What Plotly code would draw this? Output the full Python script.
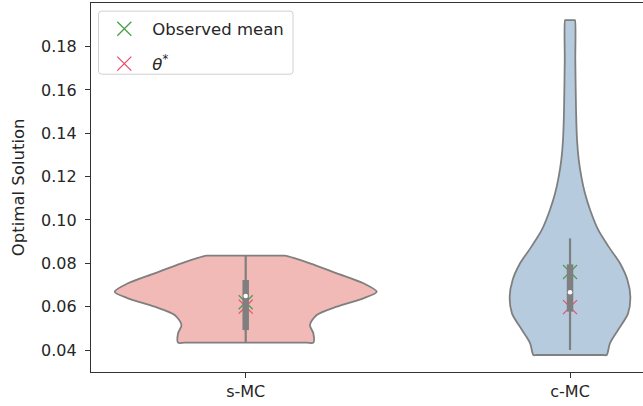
import plotly.graph_objects as go

# Categories and their positions on the x axis
categories = ["s-MC", "c-MC"]
positions = [0, 1]

# Violin outlines: value levels (bottom -> top) and the density half-width at each level
smc_levels = [0.04337, 0.04771, 0.05154, 0.05615, 0.05998, 0.06385, 0.06690,
              0.07078, 0.07539, 0.08000, 0.08351]
smc_halfwidth = [0.2085, 0.2085, 0.198, 0.219, 0.281, 0.363, 0.404,
                 0.363, 0.281, 0.198, 0.121]

cmc_levels = [0.0377, 0.0431, 0.0492, 0.0569, 0.0646, 0.0723, 0.0800, 0.0877,
              0.0954, 0.1046, 0.1123, 0.1199, 0.1276, 0.1369, 0.1507, 0.1738, 0.1922]
cmc_halfwidth = [0.113, 0.123, 0.148, 0.179, 0.186, 0.177, 0.154, 0.119,
                 0.087, 0.062, 0.046, 0.035, 0.027, 0.0216, 0.0185, 0.0163, 0.0154]

# Inner box statistics per category
whisker_low = [0.0434, 0.0400]
whisker_high = [0.0835, 0.0915]
q1 = [0.0492, 0.0577]
q3 = [0.0723, 0.0795]
median = [0.0649, 0.0666]

# Marker series
observed_mean = [0.0620, 0.0760]
theta_star = [0.0600, 0.0598]

fill_colors = ["#f1bab6", "#b7cbdf"]
edge_color = "#7f7f7f"
text_color = "#262626"
font_family = "DejaVu Sans"


def violin_outline(pos, levels, hw):
    """Closed outline: flat top cap, right side down, flat bottom cap, left side up."""
    top, bottom = levels[-1], levels[0]
    inset = 0.9
    xs = [pos - hw[-1], pos - inset * hw[-1], pos + inset * hw[-1]]
    ys = [top, top, top]
    for lv, w in zip(reversed(levels), reversed(hw)):
        xs.append(pos + w)
        ys.append(lv)
    xs += [pos + inset * hw[0], pos - inset * hw[0]]
    ys += [bottom, bottom]
    for lv, w in zip(levels, hw):
        xs.append(pos - w)
        ys.append(lv)
    return xs, ys


fig = go.Figure()

outlines = [(smc_levels, smc_halfwidth), (cmc_levels, cmc_halfwidth)]
for pos, (levels, hw), color, name in zip(positions, outlines, fill_colors, categories):
    xs, ys = violin_outline(pos, levels, hw)
    fig.add_trace(go.Scatter(
        x=xs, y=ys, mode="lines", fill="toself", fillcolor=color,
        line=dict(color=edge_color, width=1.8, shape="spline", smoothing=0.8),
        name=name, showlegend=False, hoverinfo="skip",
    ))

fig.add_trace(go.Scatter(
    x=positions, y=observed_mean, mode="markers", name="Observed mean",
    legendgroup="mean", legendrank=1,
    marker=dict(symbol="x-thin", size=14, line=dict(color="#4aa04a", width=1.3)),
))
fig.add_trace(go.Scatter(
    x=positions, y=theta_star, mode="markers", name="<i>θ</i><sup>*</sup>",
    legendgroup="theta", legendrank=2,
    marker=dict(symbol="x-thin", size=14, line=dict(color="#e8506e", width=1.3)),
))

# inner box: whiskers, interquartile box, median dot
for i, pos in enumerate(positions):
    fig.add_trace(go.Scatter(
        x=[pos, pos], y=[whisker_low[i], whisker_high[i]], mode="lines",
        line=dict(color=edge_color, width=2.2), showlegend=False, hoverinfo="skip",
    ))
    fig.add_trace(go.Scatter(
        x=[pos, pos], y=[q1[i], q3[i]], mode="lines",
        line=dict(color=edge_color, width=6.5), showlegend=False, hoverinfo="skip",
    ))
fig.add_trace(go.Scatter(
    x=positions, y=median, mode="markers",
    marker=dict(color="white", size=4.5, line=dict(width=0)),
    showlegend=False, hoverinfo="skip",
))

# legend frame with rounded corners (paper coordinates)
x0, x1, y0, y1 = 0.0136, 0.366, 0.807, 0.978
rx, ry = 0.0055, 0.0082
frame_path = (
    f"M {x0+rx},{y1} L {x1-rx},{y1} Q {x1},{y1} {x1},{y1-ry} "
    f"L {x1},{y0+ry} Q {x1},{y0} {x1-rx},{y0} L {x0+rx},{y0} "
    f"Q {x0},{y0} {x0},{y0+ry} L {x0},{y1-ry} Q {x0},{y1} {x0+rx},{y1} Z"
)
fig.add_shape(type="path", path=frame_path, xref="paper", yref="paper",
              line=dict(color="#d0d0d0", width=1), fillcolor="rgba(255,255,255,0.8)",
              layer="below")

fig.add_annotation(
    text="Optimal Solution", textangle=-90, xref="paper", yref="paper",
    x=-0.131, y=0.5, showarrow=False, xanchor="center", yanchor="middle",
    font=dict(family=font_family, size=16.5, color=text_color),
)

fig.update_layout(
    width=643, height=406,
    margin=dict(l=91, r=0, t=3, b=34),
    paper_bgcolor="white", plot_bgcolor="white",
    font=dict(family=font_family, size=16, color=text_color),
    showlegend=True,
    legend=dict(
        x=0.0096, y=0.977, xanchor="left", yanchor="top",
        bgcolor="rgba(0,0,0,0)", borderwidth=0,
        tracegroupgap=10.5, traceorder="grouped",
        font=dict(family=font_family, size=16.5, color=text_color),
        itemwidth=46,
    ),
    xaxis=dict(
        range=[-0.477, 1.225], tickvals=positions, ticktext=categories,
        showgrid=False, zeroline=False, showline=True, linecolor="#333333",
        linewidth=1.3, mirror=True, ticks="outside", ticklen=5, tickwidth=1.2,
        tickcolor="#333333", tickfont=dict(size=16),
    ),
    yaxis=dict(
        range=[0.02985, 0.2001], tickvals=[0.04, 0.06, 0.08, 0.10, 0.12, 0.14, 0.16, 0.18],
        tickformat=".2f", showgrid=False, zeroline=False, showline=True,
        linecolor="#333333", linewidth=1.3, ticks="outside", ticklen=5, tickwidth=1.2,
        tickcolor="#333333", tickfont=dict(size=16), ticklabelstandoff=5,
    ),
)

fig.write_html("out.html")
